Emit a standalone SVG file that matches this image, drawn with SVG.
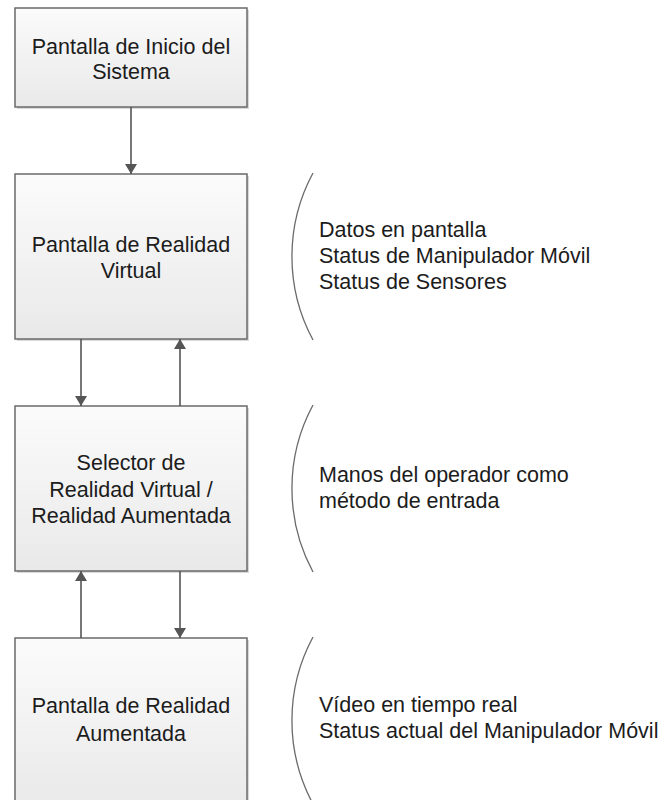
<svg xmlns="http://www.w3.org/2000/svg" width="662" height="800" viewBox="0 0 662 800">
  <defs>
    <linearGradient id="boxFill" x1="0" y1="0" x2="0" y2="1">
      <stop offset="0" stop-color="#fbfbfb"/>
      <stop offset="1" stop-color="#e9e9e9"/>
    </linearGradient>
    <marker id="arrow" viewBox="0 0 10 12" refX="10" refY="6" markerWidth="10" markerHeight="12" markerUnits="userSpaceOnUse" orient="auto">
      <path d="M0,0 L10,6 L0,12 Z" fill="#555"/>
    </marker>
  </defs>
  <style>
    .box { fill: url(#boxFill); stroke: #6a6a6a; stroke-width: 1.5; }
    .shadow { fill: #d8d8d8; }
    .lbl { font-family: "Liberation Sans", Arial, sans-serif; font-size: 21.5px; fill: #1c1c1c; text-anchor: middle; }
    .note { font-family: "Liberation Sans", Arial, sans-serif; font-size: 21.5px; fill: #1c1c1c; }
    .conn { stroke: #555; stroke-width: 1.6; fill: none; marker-end: url(#arrow); }
    .brace { stroke: #6a6a6a; stroke-width: 1.3; fill: none; }
  </style>
  <rect width="662" height="800" fill="#ffffff"/>

  <g id="inicio">
    <rect class="shadow" x="17" y="10" width="232" height="99"/>
    <rect class="box" x="15" y="8" width="232" height="99"/>
    <text class="lbl" x="131" y="54">Pantalla de Inicio del</text>
    <text class="lbl" x="131" y="79">Sistema</text>
  </g>

  <g id="realidad-virtual">
    <rect class="shadow" x="17" y="176" width="232" height="165"/>
    <rect class="box" x="15" y="174" width="232" height="165"/>
    <text class="lbl" x="131" y="252">Pantalla de Realidad</text>
    <text class="lbl" x="131" y="278">Virtual</text>
  </g>

  <g id="selector">
    <rect class="shadow" x="17" y="408" width="232" height="165"/>
    <rect class="box" x="15" y="406" width="232" height="165"/>
    <text class="lbl" x="131" y="470">Selector de</text>
    <text class="lbl" x="131" y="497">Realidad Virtual /</text>
    <text class="lbl" x="131" y="523">Realidad Aumentada</text>
  </g>

  <g id="realidad-aumentada">
    <rect class="shadow" x="17" y="640" width="232" height="170"/>
    <rect class="box" x="15" y="638" width="232" height="170"/>
    <text class="lbl" x="131" y="713">Pantalla de Realidad</text>
    <text class="lbl" x="131" y="741">Aumentada</text>
  </g>

  <g id="connectors">
    <line class="conn" x1="131" y1="107" x2="131" y2="174"/>
    <line class="conn" x1="81" y1="339" x2="81" y2="406"/>
    <line class="conn" x1="180" y1="406" x2="180" y2="339"/>
    <line class="conn" x1="81" y1="638" x2="81" y2="571"/>
    <line class="conn" x1="180" y1="571" x2="180" y2="638"/>
  </g>

  <g id="nota-virtual">
    <path class="brace" d="M313,173 A176,176 0 0 0 313,340"/>
    <text class="note" x="319" y="237">Datos en pantalla</text>
    <text class="note" x="319" y="263">Status de Manipulador Móvil</text>
    <text class="note" x="319" y="289">Status de Sensores</text>
  </g>

  <g id="nota-selector">
    <path class="brace" d="M313,405 A176,176 0 0 0 313,572"/>
    <text class="note" x="319" y="482">Manos del operador como</text>
    <text class="note" x="319" y="508">método de entrada</text>
  </g>

  <g id="nota-aumentada">
    <path class="brace" d="M313,637 A176,176 0 0 0 313,804"/>
    <text class="note" x="319" y="712">Vídeo en tiempo real</text>
    <text class="note" x="319" y="738">Status actual del Manipulador Móvil</text>
  </g>
</svg>
